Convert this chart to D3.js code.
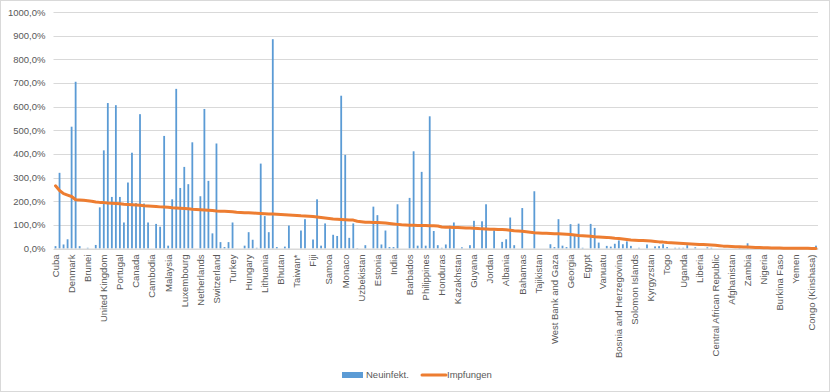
<!DOCTYPE html>
<html>
<head>
<meta charset="utf-8">
<script src="https://cdn.jsdelivr.net/npm/d3@7"></script>
<style>
  html, body { margin: 0; padding: 0; background: #fff; }
  svg { display: block; font-family: "Liberation Sans", Arial, sans-serif; }
</style>
</head>
<body>
<svg id="chart" width="830" height="392"></svg>
<script>
const countries = [
  "Cuba","Chile","United Arab Emirates","Singapore","Denmark","Korea, South","China","Malta","Brunei","Japan",
  "Vietnam","Uruguay","United Kingdom","Italy","Belgium","Iceland","Portugal","Australia","Germany","France",
  "Canada","Ireland","Spain","Argentina","Cambodia","Norway","Finland","Austria","Malaysia","Israel",
  "Liechtenstein","Sweden","Luxembourg","Greece","San Marino","Seychelles","Netherlands","New Zealand","Qatar","Thailand",
  "Switzerland","Cyprus","Mongolia","Bahrain","Turkey","Saudi Arabia","Sri Lanka","Maldives","Hungary","Brazil",
  "Ecuador","Slovenia","Lithuania","Andorra","Antigua and Barbuda","Kuwait","Bhutan","Peru","Panama","Costa Rica",
  "Taiwan*","Czechia","Croatia","Colombia","Fiji","Latvia","Indonesia","Mauritius","Samoa","Dominican Republic",
  "Serbia","Poland","Monaco","Iran","El Salvador","Oman","Uzbekistan","Mexico","Laos","Slovakia",
  "Estonia","Montenegro","Saint Kitts and Nevis","Turkmenistan","India","Russia","Nepal","Bangladesh","Barbados","Romania",
  "Venezuela","Dominica","Philippines","Trinidad and Tobago","Bolivia","Pakistan","Honduras","Lebanon","Belarus","Tunisia",
  "Kazakhstan","Morocco","Azerbaijan","Paraguay","Guyana","Grenada","Bulgaria","Ukraine","Jordan","Botswana",
  "Rwanda","Guatemala","Albania","Saint Lucia","Nicaragua","Cabo Verde","Bahamas","Belize","Jamaica","Armenia",
  "Tajikistan","Iraq","Timor-Leste","Moldova","West Bank and Gaza","Suriname","Libya","Sao Tome and Principe","Georgia","Tonga",
  "North Macedonia","Equatorial Guinea","Egypt","Zimbabwe","Algeria","South Africa","Vanuatu","Comoros","Eswatini","Guinea",
  "Bosnia and Herzegovina","Saint Vincent and the Grenadines","Kenya","Gabon","Solomon Islands","Lesotho","Angola","Namibia","Kyrgyzstan","Ghana",
  "Mozambique","Syria","Togo","Cote d'Ivoire","Sierra Leone","Senegal","Uganda","Djibouti","Mauritania","Sudan",
  "Liberia","Ethiopia","Papua New Guinea","Somalia","Central African Republic","Gambia","Mali","Niger","Afghanistan","Cameroon",
  "Guinea-Bissau","Madagascar","Zambia","Malawi","Benin","Eritrea","Nigeria","Chad","Haiti","South Sudan",
  "Burkina Faso","Tanzania","Burundi","Congo (Brazzaville)","Yemen","Kosovo","Nauru","Micronesia","Congo (Kinshasa)","Marshall Islands"
];

// Neuinfekt. (percent)
const neuinfekt = [
  10,320,17,39,515,705,10,0,3,0,
  15,174,415,615,218,606,218,110,279,405,
  192,568,190,110,0,104,92,476,12,208,
  675,256,345,272,449,0,221,590,286,64,
  444,27,6,27,110,0,0,12,69,37,
  3,359,137,69,885,6,0,8,97,0,
  0,76,124,0,38,208,12,106,0,58,
  53,646,396,45,106,2,0,14,0,177,
  141,17,76,6,6,187,0,0,214,411,
  12,324,12,559,74,14,3,17,96,110,
  0,5,0,14,117,0,115,187,0,77,
  0,28,39,131,14,0,171,0,0,242,
  0,0,0,18,6,124,12,6,103,54,
  105,3,0,104,87,25,0,11,8,20,
  34,18,30,11,0,3,0,17,0,9,
  10,18,6,0,3,3,3,14,0,5,
  0,0,5,3,0,0,0,0,0,0,
  3,0,22,0,0,0,0,0,0,0,
  0,0,0,0,0,0,0,0,0,12
];

// Impfungen (percent)
const impfungen = [
  265,245,232,226,220,206,205,204,202,200,
  197,195,194,192,191,190,189,187,186,185,
  184,183,181,180,179,178,176,175,174,172,
  171,170,169,168,166,165,164,163,162,161,
  159,158,157,156,155,153,152,151,151,150,
  149,148,147,146,146,145,144,143,142,141,
  140,138,137,136,135,133,131,129,127,125,
  124,123,122,121,120,115,113,111,111,110,
  110,109,108,106,104,102,100,99,98,98,
  97,97,97,96,96,95,91,90,90,89,
  89,88,87,87,86,85,83,82,81,81,
  80,80,79,77,75,74,73,71,69,67,
  66,65,64,63,62,62,61,60,59,57,
  55,54,53,52,50,49,48,47,45,43,
  42,40,38,36,35,34,34,33,32,30,
  28,27,25,24,23,22,21,20,19,18,
  17,17,16,15,14,12,10,9,8,7,
  7,6,6,5,4,4,3,3,2,2,
  2,1.5,1.5,1.2,1,1,0.8,0.6,0.4,0.3
];

const yTicks = [0,100,200,300,400,500,600,700,800,900,1000];
const seriesNames = ["Neuinfekt.", "Impfungen"];

const W = 830, H = 392;
const m = { left: 53.5, right: 818, top: 12, bottom: 248.5 };
const svg = d3.select("#chart");
const textColor = "#595959";

svg.append("rect").attr("x", 0.5).attr("y", 0.5).attr("width", W - 1).attr("height", H - 1)
  .attr("fill", "#fff").attr("stroke", "#D9D9D9");

const x = d3.scaleBand().domain(countries).range([m.left, m.right]).paddingInner(0).paddingOuter(0);
const y = d3.scaleLinear().domain([0, 1000]).range([m.bottom, m.top]);

// gridlines
svg.append("g").selectAll("line").data(yTicks).join("line")
  .attr("x1", m.left).attr("x2", m.right)
  .attr("y1", d => Math.round(y(d)) + 0.5).attr("y2", d => Math.round(y(d)) + 0.5)
  .attr("stroke", "#D9D9D9").attr("stroke-width", 1);

// y axis labels
const fmt = d => d3.format(".1f")(d).replace(".", ",") + "%";
const yAxis = svg.append("g").attr("transform", `translate(${m.left - 8},0)`)
  .call(d3.axisLeft(y).tickValues(yTicks).tickFormat(fmt).tickSize(0).tickPadding(0));
yAxis.select(".domain").remove();
yAxis.selectAll("text").attr("fill", textColor).style("font-size", "9.5px")
  .style("font-family", "'Liberation Sans', Arial, sans-serif");

// bars
const bw = 1.8;
svg.append("g").selectAll("rect").data(countries).join("rect")
  .attr("x", (d, i) => x(d) + x.bandwidth() / 2 - bw / 2)
  .attr("y", (d, i) => y(neuinfekt[i]))
  .attr("width", bw)
  .attr("height", (d, i) => y(0) - y(neuinfekt[i]))
  .attr("fill", "#5B9BD5");

// x axis
const xAxis = svg.append("g").attr("transform", `translate(0,${m.bottom})`)
  .call(d3.axisBottom(x).tickValues(countries.filter((d, i) => i % 4 === 0)).tickSize(0));
xAxis.select(".domain").attr("stroke", "#D9D9D9");
xAxis.selectAll("text")
  .attr("fill", textColor).style("font-size", "9.5px")
  .style("font-family", "'Liberation Sans', Arial, sans-serif")
  .attr("transform", "rotate(-90)")
  .attr("x", -6).attr("y", 0).attr("dy", "0.35em")
  .attr("text-anchor", "end");

// line
const line = d3.line()
  .x((d, i) => x(countries[i]) + x.bandwidth() / 2)
  .y(d => y(d));
svg.append("path").datum(impfungen)
  .attr("d", line).attr("fill", "none")
  .attr("stroke", "#ED7D31").attr("stroke-width", 3)
  .attr("stroke-linejoin", "round").attr("stroke-linecap", "round");

// legend
const lg = svg.append("g").attr("transform", "translate(0,375)");
lg.append("rect").attr("x", 342).attr("y", -3).attr("width", 21).attr("height", 6).attr("fill", "#5B9BD5");
lg.append("text").attr("x", 366).attr("y", 0).attr("dy", "0.35em").text(seriesNames[0])
  .attr("fill", textColor).style("font-size", "9.5px");
lg.append("line").attr("x1", 422).attr("x2", 446).attr("y1", 0).attr("y2", 0)
  .attr("stroke", "#ED7D31").attr("stroke-width", 3).attr("stroke-linecap", "round");
lg.append("text").attr("x", 447).attr("y", 0).attr("dy", "0.35em").text(seriesNames[1])
  .attr("fill", textColor).style("font-size", "9.5px");
</script>
</body>
</html>
